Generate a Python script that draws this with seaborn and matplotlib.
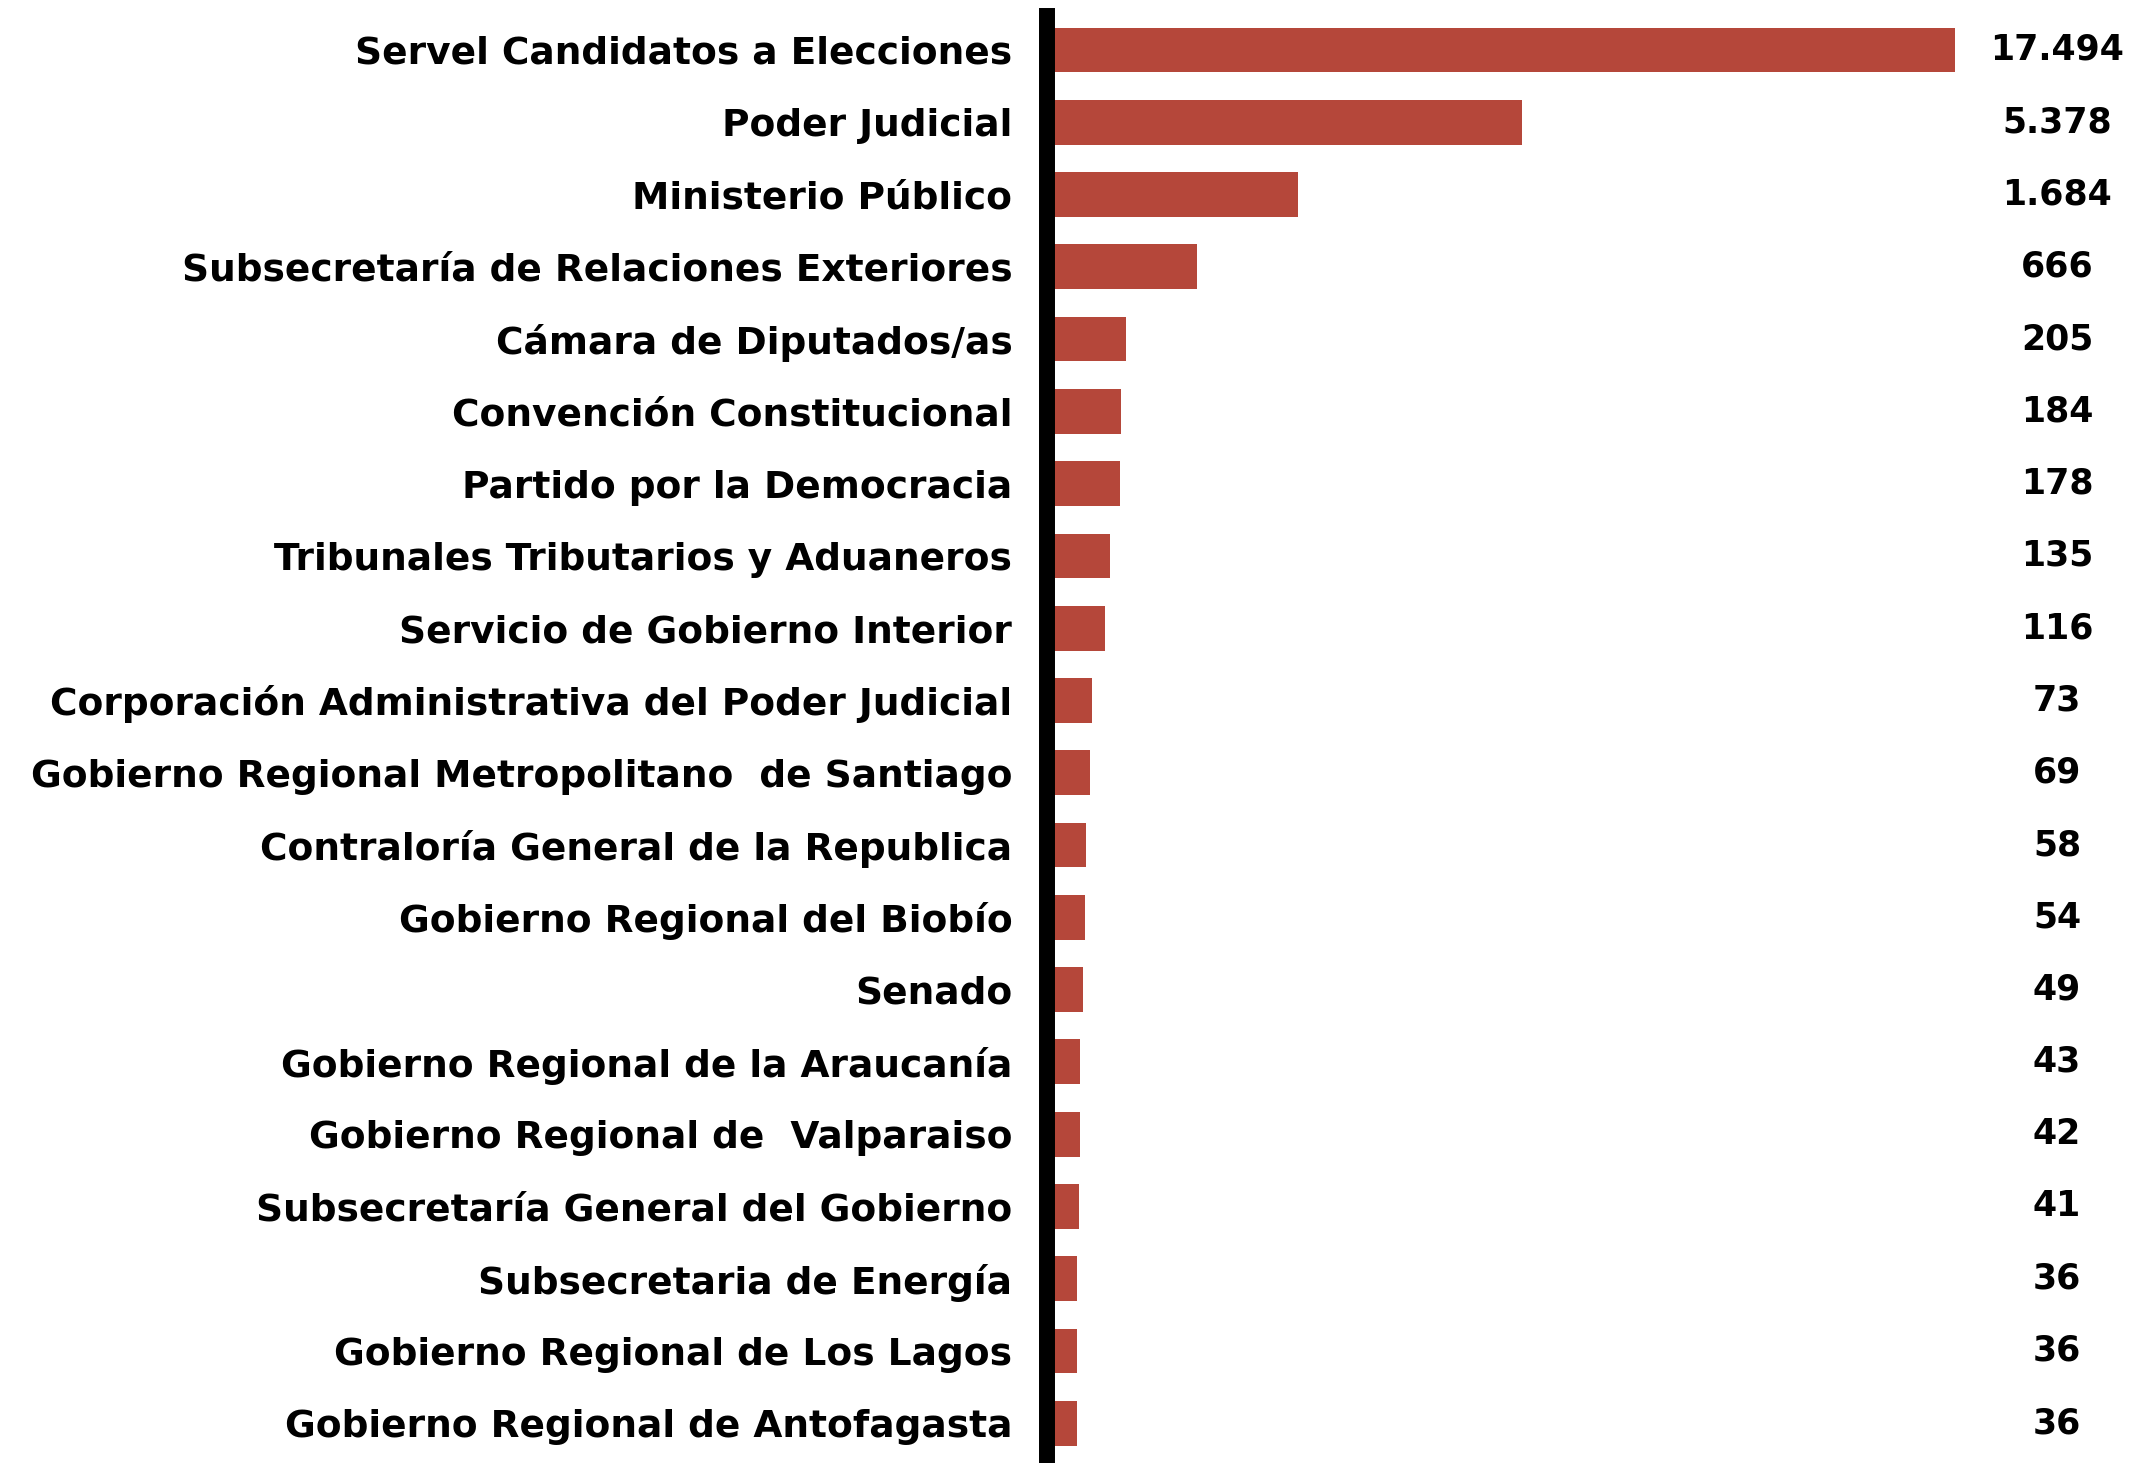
import numpy as np
import pandas as pd
from matplotlib import pyplot as plt
from matplotlib import transforms
import seaborn as sns

# datos
instituciones = [
    "Servel Candidatos a Elecciones",
    "Poder Judicial",
    "Ministerio Público",
    "Subsecretaría de Relaciones Exteriores",
    "Cámara de Diputados/as",
    "Convención Constitucional",
    "Partido por la Democracia",
    "Tribunales Tributarios y Aduaneros",
    "Servicio de Gobierno Interior",
    "Corporación Administrativa del Poder Judicial",
    "Gobierno Regional Metropolitano  de Santiago",
    "Contraloría General de la Republica",
    "Gobierno Regional del Biobío",
    "Senado",
    "Gobierno Regional de la Araucanía",
    "Gobierno Regional de  Valparaiso",
    "Subsecretaría General del Gobierno",
    "Subsecretaria de Energía",
    "Gobierno Regional de Los Lagos",
    "Gobierno Regional de Antofagasta",
]
cantidades = [17494, 5378, 1684, 666, 205, 184, 178, 135, 116, 73,
              69, 58, 54, 49, 43, 42, 41, 36, 36, 36]

df = pd.DataFrame({"institucion": instituciones, "cantidad": cantidades})

W, H = 2129, 1463
fig = plt.figure(figsize=(W / 100, H / 100), dpi=100)
ax = fig.add_axes([1047 / W, 0, (1955 - 1047) / W, 1 - 16 / H])

sns.barplot(data=df, x="cantidad", y="institucion", color="#B5473A",
            saturation=1, width=0.62, ax=ax)

# escala no lineal (la barra mas larga no aplasta al resto)
ax.set_xscale("function", functions=(lambda v: np.power(np.clip(v, 0, None), 0.55),
                                     lambda v: np.power(np.clip(v, 0, None), 1 / 0.55)))
ax.set_xlim(0, max(cantidades))
ax.set_ylim(19.55, -0.47)

for s in ["top", "right", "bottom"]:
    ax.spines[s].set_visible(False)
ax.spines["left"].set_linewidth(11.5)
ax.spines["left"].set_color("black")
ax.set_xticks([])
ax.set_xlabel("")
ax.set_ylabel("")
ax.tick_params(axis="y", length=0, pad=25)
for t in ax.get_yticklabels():
    t.set_fontfamily("DejaVu Sans")
    t.set_fontweight("bold")
    t.set_fontsize(27)

trans = transforms.blended_transform_factory(fig.transFigure, ax.transData)
for i, v in enumerate(cantidades):
    txt = f"{v:,}".replace(",", ".")
    ax.text(2057 / W, i, txt, transform=trans, ha="center", va="center",
            fontsize=25, fontweight="bold", family="DejaVu Sans", color="black")

fig.savefig("out.png", dpi=100, facecolor="white")
